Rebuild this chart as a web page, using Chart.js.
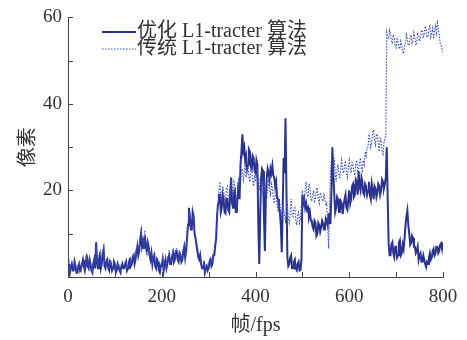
<!DOCTYPE html>
<html>
<head>
<meta charset="utf-8">
<script src="https://cdn.jsdelivr.net/npm/chart.js@4/dist/chart.umd.min.js"></script>
<style>
  html, body { margin: 0; padding: 0; background: #ffffff; }
  #wrap { width: 467px; height: 340px; }
</style>
</head>
<body>
<div id="wrap"><canvas id="c" width="467" height="340"></canvas></div>
<script>
// Tracking error (pixels) per frame, sampled every FRAME_STEP frames (one row = 20 frames).
const FRAME_STEP = 2;

const seriesNames = ['优化 L1-tracter 算法', '传统 L1-tracter 算法'];

// Optimised L1-tracter
const optimized = [
  2, 3, 1, 2.5, 3, 1.5, 1.5, 3.5, 2.5, 1,
  1, 2.5, 3, 1.5, 2, 3, 4, 2.5, 1.5, 3,
  5, 2.5, 2, 4, 3, 1.5, 1, 3, 4, 2,
  8, 3.5, 2, 4, 5, 2, 3, 5.5, 6.4, 2.5,
  2, 3.5, 4, 2, 1.5, 3.5, 3, 1.5, 2, 3.5,
  3, 1, 1.5, 3, 2.5, 1.5, 1, 2.5, 3, 2,
  2, 3, 3.5, 1.5, 2, 3.5, 4, 2.5, 3, 4.5,
  5, 3, 4, 6, 7, 5, 6, 8.5, 10, 7,
  8, 6.5, 9.5, 7, 6, 8, 7, 5, 4, 5.5,
  3, 4.5, 5, 2.5, 2, 4, 3.5, 1.5, 1, 2.5,
  2.5, 4, 1.5, 3, 4, 2, 3, 4.5, 5, 3,
  3, 4.5, 5.5, 3.5, 4, 6, 6, 4, 3.5, 5.5,
  5, 3.5, 4, 6, 7, 4.5, 6, 9, 12, 16,
  14, 11, 11, 15, 14, 10, 9, 7.5, 6, 4.5,
  4, 5, 3, 2, 2, 3.5, 1, 2, 2.5, 1.5,
  2, 3.5, 4, 2.5, 3, 5, 5, 7, 9, 14,
  17, 19, 19, 15, 16, 19, 18, 15, 14.7, 18,
  18, 15.5, 15, 19, 23, 17, 16, 19.5, 20, 15,
  15, 19, 22, 18, 26, 29, 33, 29, 30, 27,
  28, 25, 26, 29.5, 29, 25.5, 25, 28, 27.5, 24.5,
  24, 27, 26, 12, 3, 14, 23, 25, 24.5, 14,
  6, 18, 23, 25, 24, 22.5, 25, 24, 25.7, 23.5,
  23, 21, 22, 18.5, 18, 16, 15, 12, 5.7, 16,
  27.5, 24, 36.7, 20, 4.6, 2.5, 3, 4.5, 5, 2,
  2, 3.5, 4, 2, 1.6, 3, 3.5, 1.5, 1.6, 4,
  19, 17, 18, 16, 17, 15.5, 16, 14, 15, 13,
  13, 11.5, 11, 13, 12.5, 9.5, 10, 12.5, 12, 10.5,
  11.5, 13, 12.4, 11, 11, 13.5, 13, 12, 14.7, 12.5,
  12.5, 20, 30, 24, 19, 15, 16, 18.5, 18, 15,
  15, 17.5, 17, 14.5, 16.5, 18, 19, 16, 15.5, 18,
  20, 17, 18, 21, 21.5, 18.5, 19, 22.5, 22, 19,
  24.5, 21, 20, 23, 22, 19.5, 19, 21.5, 21, 19,
  20, 22, 19, 18, 21.5, 20, 18, 21, 20.5, 18.5,
  19.5, 21.5, 21, 19, 20, 22.5, 22, 20.5, 21.5, 23,
  30, 18, 7.8, 5, 5, 7.5, 8, 5.5, 4.6, 7,
  7, 4.5, 5, 8, 8.5, 5, 5.5, 7.5, 6.5, 9,
  12, 14, 15.4, 12, 10, 7.5, 8, 9.5, 9, 7,
  7, 5.5, 6, 7, 4, 5, 5.5, 3.5, 3.5, 5,
  4, 3, 2.3, 3.5, 3, 4.5, 5.5, 4, 4.5, 6,
  6.5, 5, 5.5, 7, 7, 5.5, 6, 7.5, 7.8, 6.5,
  8
];

// Conventional L1-tracter
const conventional = [
  2.5, 3.5, 1.5, 3, 3.5, 2, 2, 4, 3, 1.5,
  2, 3, 3.5, 2, 1.5, 3.5, 4.5, 3, 2, 4,
  5.5, 3, 2.5, 4.5, 3.5, 2, 1.5, 3.5, 4.5, 3,
  7, 4, 3, 5, 6, 2.5, 3.5, 6, 7, 3.5,
  2.5, 4, 4.5, 2.5, 2, 4, 3.5, 2, 2.5, 4,
  3.5, 1.5, 2, 3.5, 3, 2, 1.5, 3, 3.5, 2.5,
  2.5, 3.5, 4, 2, 2.5, 4, 4.5, 3, 3.5, 5,
  5.5, 3.5, 4.5, 6.5, 8, 6, 7, 9.5, 11, 8,
  9, 7, 10.8, 8, 6.5, 8.5, 7.5, 5.5, 4.5, 6,
  3.5, 5, 5.5, 3, 2.5, 4.5, 4, 2, 1.5, 3,
  3, 4.5, 2, 3.5, 4.5, 2.5, 3.5, 5, 6.2, 3.5,
  3.5, 5, 6, 4, 4.5, 6.5, 6.5, 4.5, 4, 6,
  5.5, 4, 4.5, 6.5, 7.5, 5, 6.5, 9.5, 12.5, 15,
  14, 11.5, 12, 14, 13, 10.5, 9.5, 8, 7, 5.5,
  5, 5.5, 3.5, 2.5, 2.5, 4, 1.5, 2.5, 3, 2,
  2.5, 4, 4.5, 3, 3.5, 5.5, 6, 8, 10, 14,
  17, 20, 22, 18.5, 18, 21, 20, 18, 17.5, 20.5,
  21, 18.5, 18, 21, 22, 19.5, 19, 22, 21, 18.5,
  17, 20, 23, 21, 22, 24.5, 25, 22.5, 24, 26,
  23, 24, 25.5, 23, 22, 25, 24.5, 22, 21, 23.5,
  22, 23.5, 24.5, 21.5, 20, 22.5, 22, 19.5, 19, 21.5,
  21.5, 19, 18.5, 21, 22, 20, 19, 21.5, 20.6, 18,
  17, 19.5, 19, 16.5, 15.5, 17.5, 17, 14.5, 14, 16.5,
  16, 14, 13, 16, 17, 13.5, 12.5, 15.5, 18, 14.5,
  14, 15.5, 16, 13, 12, 14.5, 15, 12.5, 13.5, 17,
  20, 18, 17, 20.5, 22, 19, 18.5, 21.5, 21, 18,
  17.5, 19, 20, 17.5, 18, 20.5, 20.6, 18, 17, 19.5,
  19, 18, 17.5, 19, 18, 16.5, 17, 12, 6.6, 16,
  24.5, 27, 26, 23, 27.5, 24, 22, 25, 26, 23.5,
  23, 25.5, 27, 24.5, 24, 26, 26.5, 24, 23, 25.5,
  27, 25, 24, 26.5, 26, 24, 23.5, 26, 27, 24.5,
  25, 26.5, 27.5, 25, 24.5, 27, 26, 29, 28, 30,
  30, 33, 32, 30, 31, 33.5, 34, 31.5, 30.5, 33,
  33, 30.5, 29, 32, 31.5, 29, 28.4, 31, 32, 33,
  56.6, 55.5, 55, 57, 56.2, 54.5, 54, 56, 55.5, 53.5,
  53, 55, 54.4, 53, 52.7, 54.5, 53.5, 52, 51.6, 53.5,
  54, 56, 55, 53.5, 53.7, 55.5, 56, 54, 54.5, 56.5,
  55.5, 53.5, 54, 56.5, 56, 54.5, 55, 57, 57, 55.5,
  56, 58, 57.5, 55.5, 55.5, 57.5, 58, 55.5, 56.5, 57.5,
  55, 57, 58, 56.5, 59.4, 57, 56, 54, 53.7, 52.5,
  52
];

const xTickLabels = [0, 200, 400, 600, 800];
const yTickLabels = [20, 40, 60];

const SERIF = '"Liberation Serif", "Noto Sans CJK SC", serif';
const AXIS_COLOR = '#444444';
const TEXT_COLOR = '#333333';
const SOLID_COLOR = '#2b3390';
const DOTTED_COLOR = '#3a4ac4';

const toPoints = arr => arr.map((v, i) => ({ x: i * FRAME_STEP, y: v }));

// Tick marks drawn on the inside of the axes
const inwardTicks = {
  id: 'inwardTicks',
  afterDraw(chart) {
    const { ctx, chartArea, scales } = chart;
    const len = 5;
    ctx.save();
    ctx.strokeStyle = AXIS_COLOR;
    ctx.lineWidth = 1;
    ctx.beginPath();
    scales.x.ticks.forEach(t => {
      const px = Math.round(scales.x.getPixelForValue(t.value)) + 0.5;
      ctx.moveTo(px, chartArea.bottom);
      ctx.lineTo(px, chartArea.bottom - len);
    });
    scales.y.ticks.forEach(t => {
      const py = Math.round(scales.y.getPixelForValue(t.value)) + 0.5;
      ctx.moveTo(chartArea.left, py);
      ctx.lineTo(chartArea.left + len, py);
    });
    ctx.stroke();
    ctx.restore();
  }
};

// Legend in the upper-left corner of the plot
const innerLegend = {
  id: 'innerLegend',
  afterDraw(chart) {
    const { ctx } = chart;
    const rows = [
      { y: 32, color: SOLID_COLOR, dash: [], width: 2 },
      { y: 49, color: DOTTED_COLOR, dash: [1.5, 1.5], width: 1.2 }
    ];
    ctx.save();
    rows.forEach((r, i) => {
      ctx.beginPath();
      ctx.setLineDash(r.dash);
      ctx.strokeStyle = r.color;
      ctx.lineWidth = r.width;
      ctx.moveTo(102, r.y);
      ctx.lineTo(136, r.y);
      ctx.stroke();
      ctx.setLineDash([]);
      ctx.fillStyle = TEXT_COLOR;
      ctx.font = '20px ' + SERIF;
      ctx.textBaseline = 'middle';
      ctx.textAlign = 'left';
      ctx.fillText(seriesNames[i], 137, r.y);
    });
    ctx.restore();
  }
};

new Chart(document.getElementById('c'), {
  type: 'line',
  data: {
    datasets: [
      {
        label: seriesNames[0],
        data: toPoints(optimized),
        borderColor: SOLID_COLOR,
        borderWidth: 2,
        pointRadius: 0,
        tension: 0,
        order: 1
      },
      {
        label: seriesNames[1],
        data: toPoints(conventional),
        borderColor: DOTTED_COLOR,
        borderWidth: 1.1,
        borderDash: [1.5, 1.5],
        pointRadius: 0,
        tension: 0,
        order: 0
      }
    ]
  },
  options: {
    responsive: false,
    animation: false,
    layout: { padding: { top: 15, right: 24, left: 0, bottom: 0 } },
    plugins: { legend: { display: false }, tooltip: { enabled: false } },
    scales: {
      x: {
        type: 'linear',
        min: 0,
        max: 800,
        grid: { display: false, drawTicks: false },
        border: { display: true, color: AXIS_COLOR, width: 1 },
        ticks: {
          stepSize: 100,
          padding: 9,
          color: TEXT_COLOR,
          font: { family: SERIF, size: 19 },
          maxRotation: 0,
          autoSkip: false,
          callback: v => xTickLabels.includes(v) ? String(v) : ''
        },
        title: {
          display: true,
          text: '帧/fps',
          color: TEXT_COLOR,
          font: { family: SERIF, size: 20 },
          padding: { top: 0, bottom: 2 }
        },
        afterFit: s => { s.height = 63; }
      },
      y: {
        min: 0,
        max: 60,
        grid: { display: false, drawTicks: false },
        border: { display: true, color: AXIS_COLOR, width: 1 },
        ticks: {
          stepSize: 10,
          padding: 6,
          color: TEXT_COLOR,
          font: { family: SERIF, size: 19 },
          autoSkip: false,
          callback: v => yTickLabels.includes(v) ? String(v) : ''
        },
        title: {
          display: true,
          text: '像素',
          color: TEXT_COLOR,
          font: { family: SERIF, size: 20 },
          padding: { top: 17, bottom: 0 }
        },
        afterFit: s => { s.width = 68; }
      }
    }
  },
  plugins: [inwardTicks, innerLegend]
});
</script>
</body>
</html>
